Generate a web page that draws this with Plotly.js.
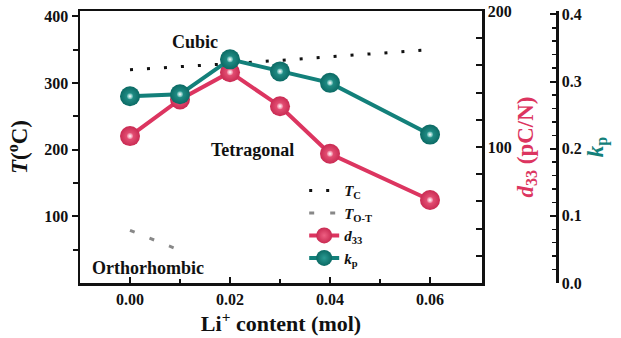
<!DOCTYPE html>
<html>
<head>
<meta charset="utf-8">
<script src="https://cdn.plot.ly/plotly-3.0.1.min.js"></script>
<style>html,body{margin:0;padding:0;background:#fff;}#chart{width:621px;height:338px;}</style>
</head>
<body>
<div id="chart"></div>
<script>
// Data
const liContent = [0.00, 0.01, 0.02, 0.03, 0.04, 0.06];
const tcValues = [320, 324, 329, 334, 339, 350];
const totX = [0.00, 0.01];
const totValues = [79, 49];
const d33Values = [108, 135, 155, 130, 95, 61];
const kpValues = [0.278, 0.281, 0.333, 0.315, 0.298, 0.221];
const xTickVals = [0.00, 0.02, 0.04, 0.06];
const xTickText = ['0.00', '0.02', '0.04', '0.06'];
const tTickVals = [100, 200, 300, 400];
const d33TickVals = [100, 200];
const kpTickVals = [0, 0.1, 0.2, 0.3, 0.4];
const kpTickText = ['0.0', '0.1', '0.2', '0.3', '0.4'];

const PINK = '#dc3560';
const TEAL = '#13807a';
const FONT = "'Liberation Serif', 'Times New Roman', serif";

const traces = [
  {x: liContent, y: tcValues, mode: 'lines', name: '<b><i>T</i><sub>C</sub></b>', yaxis: 'y',
   line: {color: '#111', width: 3, dash: '3px,14px'}},
  {x: totX, y: totValues, mode: 'lines', name: '<b><i>T</i><sub>O-T</sub></b>', yaxis: 'y',
   line: {color: '#888', width: 3, dash: '5px,16px'}},
  {x: liContent, y: d33Values, mode: 'lines+markers', name: '<b><i>d</i><sub>33</sub></b>', yaxis: 'y2',
   line: {color: PINK, width: 4},
   marker: {size: 20, color: '#c92a52', gradient: {type: 'radial', color: '#ee5f82'}}},
  {x: liContent, y: kpValues, mode: 'lines+markers', name: '<b><i>k</i><sub>p</sub></b>', yaxis: 'y3',
   line: {color: TEAL, width: 4},
   marker: {size: 20, color: '#0b6a64', gradient: {type: 'radial', color: '#2a9a92'}}},
  {x: liContent, y: d33Values, mode: 'markers', yaxis: 'y2', showlegend: false, hoverinfo: 'skip',
   marker: {size: 6, color: '#f07a98', gradient: {type: 'radial', color: '#ffffff'}}},
  {x: liContent, y: kpValues, mode: 'markers', yaxis: 'y3', showlegend: false, hoverinfo: 'skip',
   marker: {size: 6, color: '#4fb0a8', gradient: {type: 'radial', color: '#ffffff'}}}
];

const tickFont = {family: FONT, size: 16, color: '#111', weight: 'bold'};

const layout = {
  width: 621, height: 338,
  margin: {l: 80, r: 64, t: 11, b: 55},
  paper_bgcolor: '#fff', plot_bgcolor: '#fff',
  font: {family: FONT, color: '#111'},
  showlegend: true,
  legend: {x: 0.47, y: 0.40, xanchor: 'left', yanchor: 'top', bgcolor: 'rgba(0,0,0,0)',
           font: {family: FONT, size: 15, color: '#111'}, tracegroupgap: 0},
  xaxis: {domain: [0, 0.8428], range: [-0.01, 0.0704], showgrid: false, zeroline: false,
          showline: true, linewidth: 2.5, linecolor: '#111', mirror: true,
          tickvals: xTickVals, ticktext: xTickText, ticks: 'inside', ticklen: 6, tickwidth: 2,
          tickcolor: '#111', tickfont: tickFont,
          minor: {tickvals: [0.01, 0.03, 0.05], ticks: 'inside', ticklen: 4, tickwidth: 2, tickcolor: '#111'},
          title: {text: '<b>Li<sup>+</sup> content (mol)</b>', font: {family: FONT, size: 22, color: '#111'}, standoff: 5}},
  yaxis: {range: [0, 408], showgrid: false, zeroline: false, showline: true, linewidth: 2.5,
          linecolor: '#111', mirror: true, tickvals: tTickVals, ticks: 'outside',
          ticklen: 6, tickwidth: 2, tickcolor: '#111', tickfont: tickFont,
          minor: {tickvals: [50, 150, 250, 350], ticks: 'outside', ticklen: 5, tickwidth: 2, tickcolor: '#111'},
          title: {text: '<b><i>T</i>(<sup>o</sup>C)</b>', font: {family: FONT, size: 23, color: '#111'}, standoff: 10}},
  yaxis2: {overlaying: 'y', side: 'right', anchor: 'x', range: [0, 200], showgrid: false, zeroline: false,
           showline: true, linewidth: 2.5, linecolor: '#111', tickvals: d33TickVals,
           ticks: 'inside', ticklen: 6, tickwidth: 2, tickcolor: '#111', tickfont: tickFont,
           minor: {tickvals: [20, 40, 60, 80, 120, 140, 160, 180], ticks: 'inside', ticklen: 6, tickwidth: 2, tickcolor: '#111'},
           title: {text: '<b><i>d</i><sub>33</sub> (pC/N)</b>', font: {family: FONT, size: 23, color: PINK}, standoff: 6}},
  yaxis3: {overlaying: 'y', side: 'right', anchor: 'free', position: 1, range: [0, 0.405],
           showgrid: false, zeroline: false, showline: true, linewidth: 2.5, linecolor: '#111',
           tickvals: kpTickVals, ticktext: kpTickText,
           ticks: 'inside', ticklen: 6, tickwidth: 2, tickcolor: '#111', tickfont: tickFont,
           minor: {dtick: 0.02, ticks: 'inside', ticklen: 4, tickwidth: 1.5, tickcolor: '#111'},
           title: {text: '<b><i>k</i><sub>p</sub></b>', font: {family: FONT, size: 23, color: TEAL}, standoff: 5}},
  annotations: [
    {text: '<b>Cubic</b>', x: 0.013, y: 362, xref: 'x', yref: 'y', showarrow: false,
     font: {family: FONT, size: 18, color: '#111'}},
    {text: '<b>Tetragonal</b>', x: 0.0244, y: 199, xref: 'x', yref: 'y', showarrow: false,
     font: {family: FONT, size: 18, color: '#111'}},
    {text: '<b>Orthorhombic</b>', x: 0.0036, y: 22, xref: 'x', yref: 'y', showarrow: false,
     font: {family: FONT, size: 18, color: '#111'}}
  ]
};

Plotly.newPlot('chart', traces, layout, {displayModeBar: false, staticPlot: true});
</script>
</body>
</html>
